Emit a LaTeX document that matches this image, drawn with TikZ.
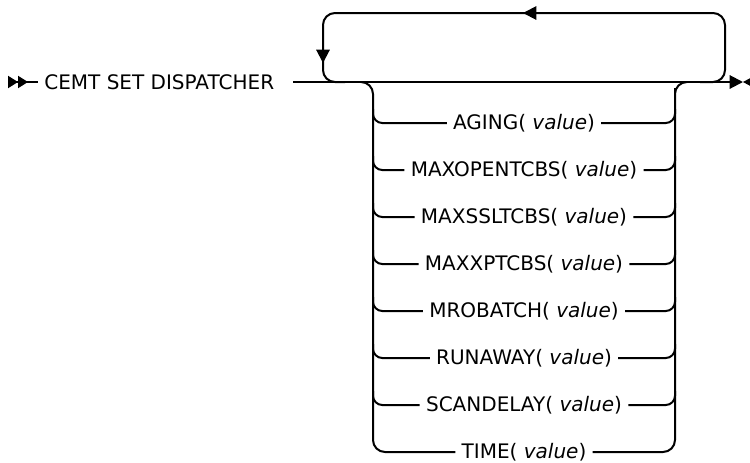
\documentclass[tikz,border=0pt]{standalone}
\usepackage{fontspec}
\setmainfont{DejaVu Sans}
\usetikzlibrary{arrows.meta}
\begin{document}
\begin{tikzpicture}[x=0.75pt,y=-0.75pt,line width=1.5pt,
  every node/.style={font=\fontsize{15}{18}\selectfont},
  kw/.style={inner xsep=4pt,inner ysep=1pt},
  rr/.style={rounded corners=9pt},
  tip/.style={-{Triangle[length=10pt,width=10pt]}}]
\useasboundingbox (0,0) rectangle (750,462);
% command name and the main line
\node[kw,anchor=west] (cmd) at (38,82) {CEMT SET DISPATCHER};
\coordinate (start) at (8,82);
\coordinate (bar) at (38,82);
\coordinate (in) at (293,82);
\coordinate (out) at (743,82);
\draw[{Triangle[reversed,length=7.5pt,width=9pt]Triangle[reversed,length=7.5pt,width=9pt]}-] (start) -- (bar);
\draw[tip] (in) -- (out);
\fill (out) -- ++(13,-7) -- ++(0,14) -- cycle;
% repeat loop
\draw[rr] (700,82) -| (725,13) -- (530,13);
\draw[tip] (560,13) -- (523,13);
\draw[rr] (530,13) -| (323,50);
\draw[tip] (323,40) -- (323,63);
\draw[rr] (323,60) |- (345,82);
% options
\foreach \name/\txt [count=\i] in {aging/AGING,maxopen/MAXOPENTCBS,maxssl/MAXSSLTCBS,maxxp/MAXXPTCBS,mro/MROBATCH,run/RUNAWAY,scan/SCANDELAY,time/TIME}{
  \node[kw] (\name) at (524,{123+(\i-1)*47}) {\txt( \textit{value})};
}
\draw[rr] (361,82) -| (373,452) -- (time.west);
\draw[rr] (time.east) -| (675,100) |- (687,82);
\foreach \name in {aging,maxopen,maxssl,maxxp,mro,run,scan}{
  \draw[rounded corners=7pt] (373,0|-\name.center) ++(0,-14) |- (\name.west);
  \draw[rounded corners=7pt] (\name.east) -| ([yshift=14*0.75pt]675,0|-\name.center);
}
\end{tikzpicture}
\end{document}
